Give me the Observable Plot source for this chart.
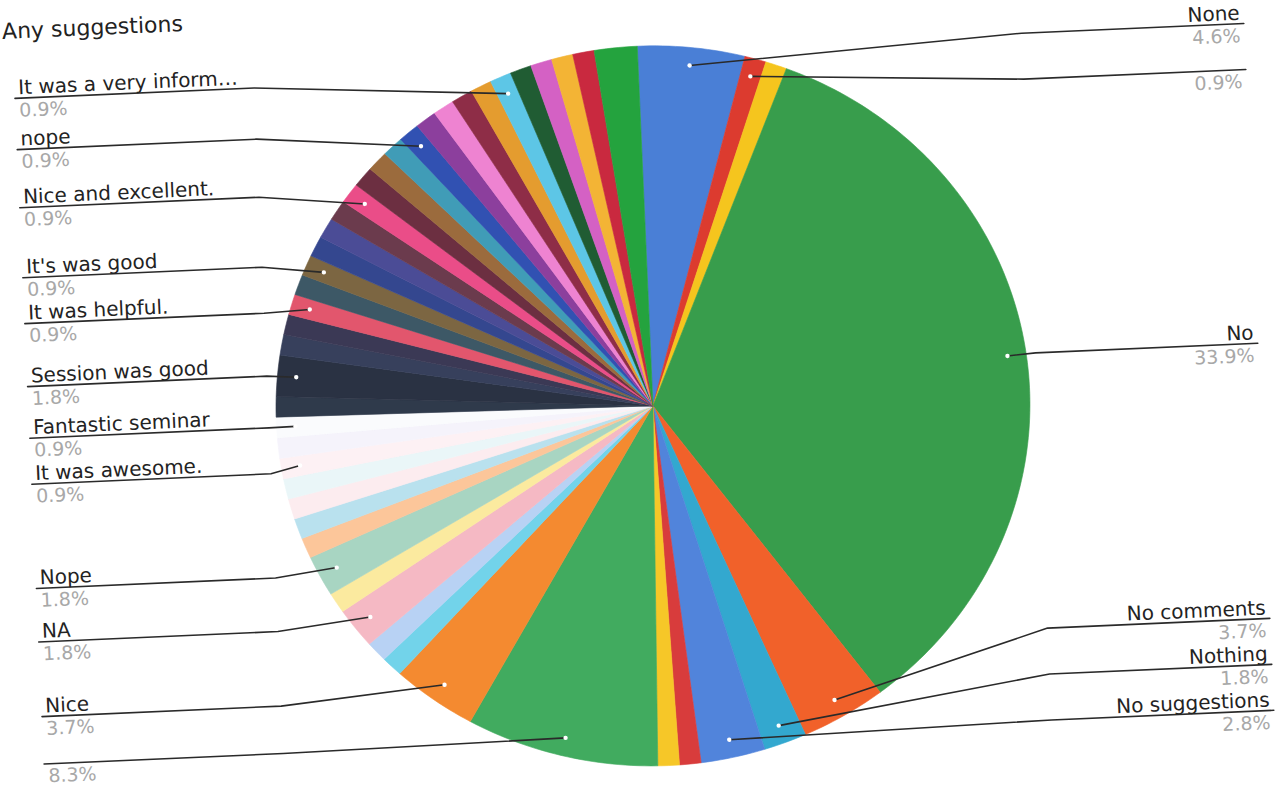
<!DOCTYPE html>
<html><head><meta charset="utf-8">
<script src="https://cdn.jsdelivr.net/npm/d3@7"></script>
<script src="https://cdn.jsdelivr.net/npm/@observablehq/plot@0.6"></script>
<style>
html,body{margin:0;padding:0;background:#fff;overflow:hidden;width:1277px;height:791px;}
#chart{width:1277px;height:791px;transform:rotate(-2.5deg);transform-origin:50% 50%;}
</style></head><body><div id="chart"></div>
<script>
const title = "Any suggestions";

// slices, clockwise from 12 o'clock
const responses = ["None","","","No","No comments","Nothing","No suggestions","","","","Nice","","","NA","","Nope","","","","","It was awesome.","","Fantastic seminar","","Session was good","","","It was helpful.","","It's was good","","","","Nice and excellent.","","","","nope","","","","","It was a very inform…","","","","",""];
const counts = [5,1,1,37,4,2,3,1,1,9,4, 1,1,2,1,2,1,1,1,1,1,1,1, 1,2, 1,1,1,1,1,1,1,1,1,1,1,1,1,1,1,1,1,1,1,1,1,1, 2];
const colors = ["#4a7fd6","#dc3b2f","#f5c51e","#389d4c","#f1612a","#33a8cf","#5184db","#d83c3c","#f6c728","#41ab5f","#f48a30",
  "#72d3ea","#b8d2f4","#f5b9c4","#fbea9f","#a8d5c2","#fcc69a","#b9e1ee","#fcecef","#eaf6f8","#fdf1f4","#f5f3fb","#fafbfd",
  "#2f3a4b","#2a3243","#37405c","#3b3955","#e2566d","#3d5866","#7c6642","#34478f","#4b4c96","#6b3b4d","#ea4d88","#6c2f41",
  "#9b6b3d","#409cb7","#3151b2","#8c3f9d","#ee83d1","#8e2d47","#e49c2f","#5dc6e6","#205c33","#d461c4","#f3b435","#c9293f","#24a33e"];
const labelledSlices = [0,1,3,4,5,6,9,10,13,15,20,22,24,27,29,33,37,42];

// layout (pie radius = 1)
const W = 1277, H = 791, CX = 652, CY = 406, RX = 377, RY = 360;
const R_DOT = 0.95, ELBOW = 1.02, TEXT_LEFT = -1.645, TEXT_RIGHT = 1.6;
const GAP = 46 / RY, TOP = 1.0, BOTTOM = -0.92;

const total = d3.sum(counts);
let cum = 0;
const slices = responses.map((name, i) => {
  const a0 = cum / total * 2 * Math.PI; cum += counts[i];
  const a1 = cum / total * 2 * Math.PI;
  return {id: i, name, count: counts[i], color: colors[i], a0, a1, mid: (a0 + a1) / 2,
          pct: (100 * counts[i] / total).toFixed(1) + "%"};
});

const piePoints = [];
for (const s of slices) {
  const n = Math.max(2, Math.ceil((s.a1 - s.a0) / (Math.PI / 180)));
  piePoints.push({id: s.id, color: s.color, x: 0, y: 0});
  for (let k = 0; k <= n; k++) {
    const a = s.a0 + (s.a1 - s.a0) * k / n;
    piePoints.push({id: s.id, color: s.color, x: Math.sin(a), y: Math.cos(a)});
  }
  piePoints.push({id: s.id, color: s.color, x: 0, y: 0});
}

const labels = labelledSlices.map(i => {
  const s = slices[i];
  return {...s, side: Math.sin(s.mid) >= 0 ? "right" : "left",
    dx: R_DOT * Math.sin(s.mid), dy: R_DOT * Math.cos(s.mid), target: Math.cos(s.mid)};
});
for (const side of ["left", "right"]) {
  const L = labels.filter(d => d.side === side).sort((a, b) => b.target - a.target);
  L.forEach(d => d.ly = Math.min(d.target, TOP));
  for (let i = 1; i < L.length; i++) L[i].ly = Math.min(L[i].ly, L[i - 1].ly - GAP);
  if (L[L.length - 1].ly < BOTTOM) {
    L[L.length - 1].ly = BOTTOM;
    for (let i = L.length - 2; i >= 0; i--) L[i].ly = Math.max(L[i].ly, L[i + 1].ly + GAP);
  }
  L.forEach(d => d.tx = side === "left" ? TEXT_LEFT : TEXT_RIGHT);
}
const leaders = labels.flatMap(d => {
  const sgn = d.side === "left" ? -1 : 1;
  return [
    {id: d.id, x: d.dx, y: d.dy},
    {id: d.id, x: sgn * ELBOW, y: d.ly},
    {id: d.id, x: d.tx + sgn * 0.01, y: d.ly}
  ];
});
const left = labels.filter(d => d.side === "left");
const right = labels.filter(d => d.side === "right");

const nameStyle = {text: "name", fontSize: 20, fill: "#232323", lineAnchor: "bottom", dy: -4};
const pctStyle = {text: "pct", fontSize: 19, fill: "#a8a8a8", lineAnchor: "top", dy: 5};

const chart = Plot.plot({
  width: W, height: H, margin: 0,
  x: {domain: [-CX / RX, (W - CX) / RX], axis: null},
  y: {domain: [-(H - CY) / RY, CY / RY], axis: null},
  color: {type: "identity"},
  style: {fontFamily: "'DejaVu Sans', sans-serif", overflow: "visible", background: "white"},
  marks: [
    Plot.line(piePoints, {x: "x", y: "y", z: "id", fill: "color", stroke: "color", strokeWidth: 0.6, curve: "linear"}),
    Plot.line(leaders, {x: "x", y: "y", z: "id", stroke: "#2a2a2a", strokeWidth: 1.6}),
    Plot.dot(labels, {x: "dx", y: "dy", r: 2.2, fill: "white"}),
    Plot.text(left, {x: "tx", y: "ly", textAnchor: "start", ...nameStyle}),
    Plot.text(left, {x: "tx", y: "ly", textAnchor: "start", ...pctStyle}),
    Plot.text(right, {x: "tx", y: "ly", textAnchor: "end", ...nameStyle}),
    Plot.text(right, {x: "tx", y: "ly", textAnchor: "end", ...pctStyle}),
    Plot.text([title], {x: (18 - CX) / RX, y: (CY - 11) / RY, text: d => d, textAnchor: "start",
      lineAnchor: "bottom", fontSize: 22, fill: "#222"})
  ]
});
document.getElementById("chart").appendChild(chart);
</script></body></html>
